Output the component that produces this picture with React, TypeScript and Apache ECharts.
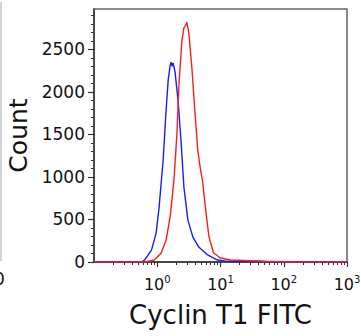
import React, { useEffect, useRef } from "react";
import * as echarts from "echarts";

// Fluorescence intensity (linear units) and event counts
const blueIntensity = [0.1, 0.3, 0.56, 0.63, 0.81, 0.96, 1.07, 1.24, 1.38, 1.49, 1.6, 1.66, 1.72, 1.78, 1.84, 1.91, 2.13, 2.37, 2.64, 3.05, 3.65, 4.53, 6.26, 8.98, 12.9, 20, 40, 60, 100, 1000];
const blueCount = [0, 0, 0, 23, 140, 340, 645, 1200, 1785, 2140, 2315, 2350, 2300, 2340, 2295, 2235, 1905, 1435, 880, 495, 295, 176, 83, 23, 8, 6, 9, 3, 0, 0];

const redIntensity = [0.1, 0.63, 0.9, 1.155, 1.38, 1.6, 1.84, 2.05, 2.21, 2.46, 2.64, 2.8, 2.94, 3.05, 3.16, 3.52, 3.92, 4.37, 4.75, 5.17, 5.83, 6.56, 7.77, 10, 14.3, 29.4, 60, 178, 1000];
const redCount = [0, 0, 23, 106, 259, 530, 965, 1518, 2105, 2610, 2752, 2780, 2820, 2755, 2690, 2293, 1788, 1317, 1121, 965, 612, 298, 106, 47, 23, 15, 5, 0, 0];

const xMajorExp = [0, 1, 2, 3];
const yMajorTicks = [0, 500, 1000, 1500, 2000, 2500];
const yMax = 2975;

const FONT = "DejaVu Sans";

export default function App() {
  const ref = useRef<HTMLDivElement>(null);

  useEffect(() => {
    document.body.style.margin = "0";
    if (!ref.current) return;
    const chart = echarts.init(ref.current, null, { renderer: "svg" });

    const xMinor: number[] = [];
    for (let d = -1; d < 3; d++) {
      for (let k = 2; k <= 9; k++) xMinor.push(Math.log10(k * Math.pow(10, d)));
    }
    const yMinor: number[] = [];
    for (let v = 100; v < yMax; v += 100) if (v % 500 !== 0) yMinor.push(v);

    const toPairs = (xs: number[], ys: number[]) => xs.map((x, i) => [Math.log10(x), ys[i]]);

    chart.setOption({
      animation: false,
      textStyle: { fontFamily: FONT },
      grid: {
        left: 94,
        right: 14,
        top: 9,
        bottom: 74,
        show: true,
        borderColor: "#666",
        borderWidth: 1.5,
        containLabel: false,
        outerBoundsMode: "none",
      },
      xAxis: [
        {
          type: "value",
          min: -1,
          max: 3,
          position: "bottom",
          splitLine: { show: false },
          axisLine: { show: true, onZero: false, lineStyle: { color: "#333", width: 1.5 } },
          axisTick: { show: true, customValues: xMajorExp, length: 5, lineStyle: { color: "#333", width: 1.2 } },
          axisLabel: {
            customValues: xMajorExp,
            margin: 12,
            formatter: (v: number) => `{b|10}{s|${Math.round(v)}}`,
            rich: {
              b: { fontSize: 16, fontFamily: FONT, color: "#111", lineHeight: 18, verticalAlign: "bottom" },
              s: { fontSize: 10, fontFamily: FONT, color: "#111", lineHeight: 10, verticalAlign: "top" },
            },
          },
          name: "Cyclin T1 FITC",
          nameLocation: "middle",
          nameGap: 40,
          nameTextStyle: { fontSize: 26, fontFamily: FONT, color: "#111" },
        },
        {
          type: "value",
          min: -1,
          max: 3,
          position: "bottom",
          splitLine: { show: false },
          axisLine: { show: false, onZero: false },
          axisTick: { show: true, customValues: xMinor, length: 3, lineStyle: { color: "#333", width: 1 } },
          axisLabel: { show: false },
        },
      ],
      yAxis: [
        {
          type: "value",
          min: 0,
          max: yMax,
          position: "left",
          splitLine: { show: false },
          axisLine: { show: true, onZero: false, lineStyle: { color: "#333", width: 1.5 } },
          axisTick: { show: true, customValues: yMajorTicks, length: 6, lineStyle: { color: "#333", width: 1.2 } },
          axisLabel: {
            customValues: yMajorTicks,
            margin: 9,
            fontSize: 17,
            color: "#111",
            formatter: (v: number) => String(Math.round(v)),
          },
          name: "Count",
          nameLocation: "middle",
          nameGap: 56,
          nameTextStyle: { fontSize: 25, fontFamily: FONT, color: "#111" },
        },
        {
          type: "value",
          min: 0,
          max: yMax,
          position: "left",
          splitLine: { show: false },
          axisLine: { show: false, onZero: false },
          axisTick: { show: true, customValues: yMinor, length: 3, lineStyle: { color: "#333", width: 1 } },
          axisLabel: { show: false },
        },
      ],
      series: [
        {
          type: "line",
          name: "Isotype",
          data: toPairs(blueIntensity, blueCount),
          showSymbol: false,
          symbol: "none",
          lineStyle: { color: "#1a1aff", width: 1.4 },
          xAxisIndex: 0,
          yAxisIndex: 0,
        },
        {
          type: "line",
          name: "Cyclin T1",
          data: toPairs(redIntensity, redCount),
          showSymbol: false,
          symbol: "none",
          lineStyle: { color: "#ff1a1a", width: 1.4 },
          xAxisIndex: 0,
          yAxisIndex: 0,
        },
      ],
      graphic: [
        { type: "line", shape: { x1: 1, y1: 2, x2: 1, y2: 261 }, style: { stroke: "#c4c4c4", lineWidth: 1.5 } },
        { type: "text", x: -6, y: 270, style: { text: "0", fontSize: 17, fontFamily: FONT, fill: "#111" } },
      ],
    });

    return () => chart.dispose();
  }, []);

  return <div ref={ref} style={{ width: 361, height: 336 }} />;
}
